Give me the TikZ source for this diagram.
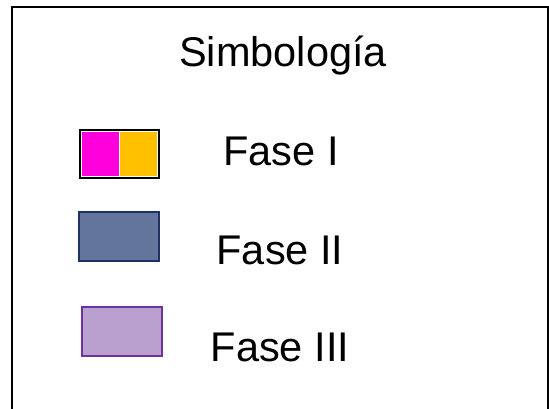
\documentclass[tikz,border=0pt]{standalone}
\usepackage{fontspec}
\setmainfont{Liberation Sans}
\definecolor{fmag}{HTML}{FF00DD}
\definecolor{forange}{HTML}{FFC000}
\definecolor{navyb}{HTML}{1F3064}
\definecolor{navyf}{HTML}{64759B}
\definecolor{purpb}{HTML}{7030A0}
\definecolor{purpf}{HTML}{B9A0CF}
\begin{document}
\begin{tikzpicture}[x=1pt,y=1pt,
  lbl/.style={font=\fontsize{41.5}{48}\selectfont, anchor=base, inner sep=0pt},
  swatch/.style={line width=2pt}]
\useasboundingbox (0,0) rectangle (549,-408);
\draw[line width=2pt] (12,-420) -- (12,-7) -- (548,-7) -- (548,-420);
\node[lbl] (title) at (283,-66) {Simbología};
% Fase I swatch
\node[draw=black, line width=2.5pt, minimum width=79pt, minimum height=48pt, inner sep=0pt] (s1) at (119.5,-154) {};
\fill[fmag] (82,-132) rectangle (119.2,-176);
\fill[forange] (120.2,-132) rectangle (157,-176);
\node[lbl] (t1) at (281,-165) {Fase I};
% Fase II swatch
\node[swatch, draw=navyb, fill=navyf, minimum width=80pt, minimum height=49pt, inner sep=0pt] (s2) at (119,-236.5) {};
\node[lbl] (t2) at (280,-264) {Fase II};
% Fase III swatch
\node[swatch, draw=purpb, fill=purpf, minimum width=80pt, minimum height=49pt, inner sep=0pt] (s3) at (122,-331.5) {};
\node[lbl] (t3) at (280,-361) {Fase III};
\end{tikzpicture}
\end{document}
